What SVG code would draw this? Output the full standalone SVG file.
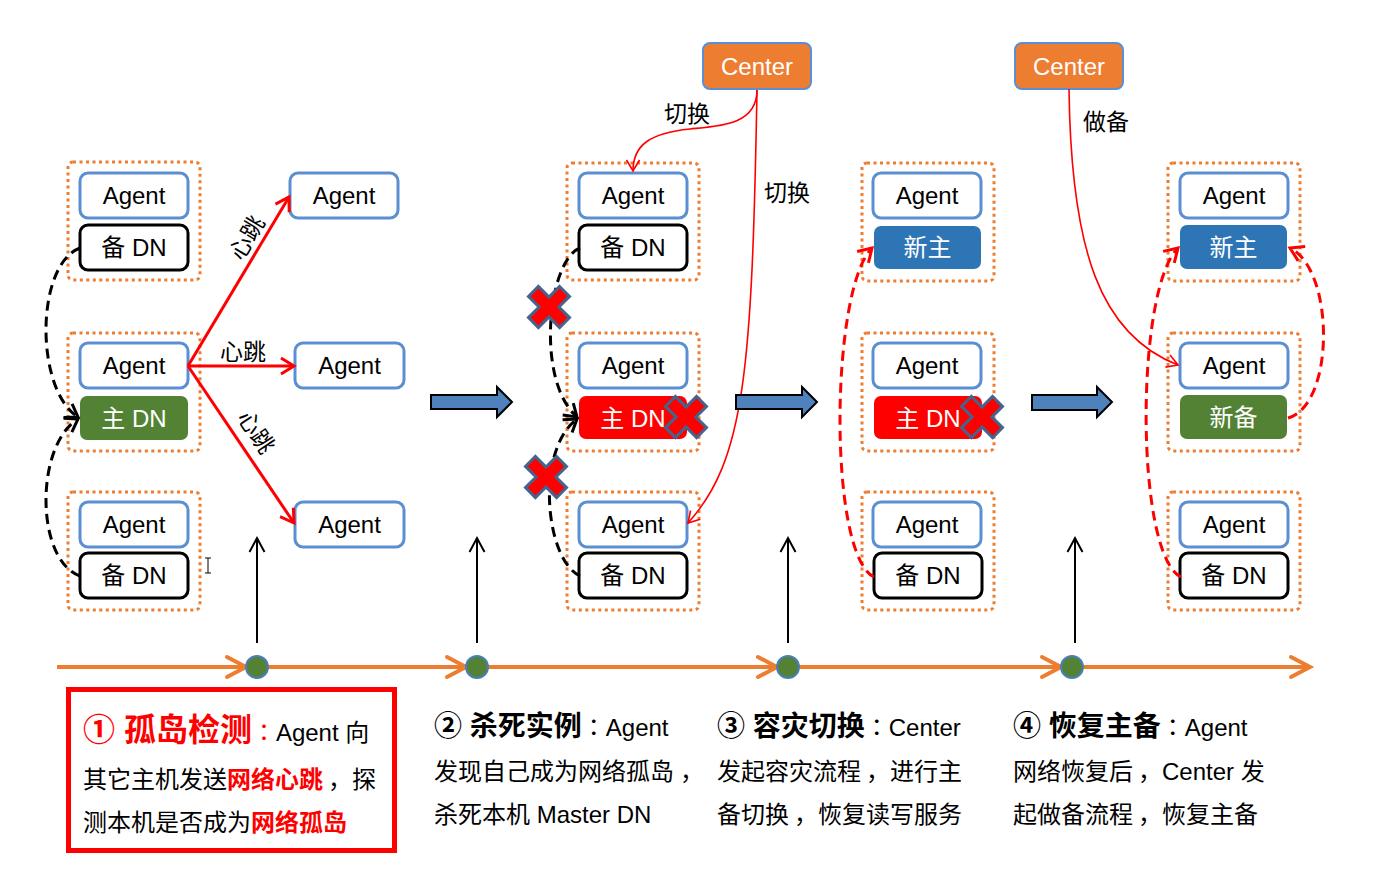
<svg xmlns="http://www.w3.org/2000/svg" width="1373" height="887" viewBox="0 0 1373 887">
<style>
.ctr{fill:none;stroke:#ED7D31;stroke-width:3;stroke-dasharray:3 3.5}
.ag{fill:#fff;stroke:#5B8FD3;stroke-width:3}
.dn{fill:#fff;stroke:#000;stroke-width:3}
.gr{fill:#548235}
.rd{fill:#FF0000}
.bl{fill:#2E75B6}
.cen{fill:#ED7D31;stroke:#5B8FD3;stroke-width:2}
.t{font-family:"Liberation Sans","Noto Sans CJK SC",sans-serif;font-size:24px;text-anchor:middle;fill:#000}
.w{fill:#fff}
.lbl{font-family:"Liberation Sans","Noto Sans CJK SC",sans-serif;font-size:23px;fill:#000}
.body{font-family:"Liberation Sans","Noto Sans CJK SC",sans-serif;font-size:24px;fill:#000}
.p{font-family:"Noto Sans CJK TC",sans-serif}
.hb{fill:none;stroke:#FF0000;stroke-width:3}
.thin{fill:none;stroke:#FF0000;stroke-width:1.6}
.bd{fill:none;stroke:#000;stroke-width:3;stroke-dasharray:10 6}
.rdash{fill:none;stroke:#FF0000;stroke-width:3;stroke-dasharray:10 6}
.blk{fill:#4F81BD;stroke:#000;stroke-width:2}
.up{fill:none;stroke:#000;stroke-width:2}
</style>
<defs>
<marker id="mRed" markerUnits="userSpaceOnUse" viewBox="-20 -12 26 24" markerWidth="26" markerHeight="24" refX="0" refY="0" orient="auto">
<path d="M-13,-8 L0,0 L-13,8" fill="none" stroke="#FF0000" stroke-width="3"/>
</marker>
<marker id="mThin" markerUnits="userSpaceOnUse" viewBox="-20 -12 26 24" markerWidth="26" markerHeight="24" refX="0" refY="0" orient="auto">
<path d="M-11,-6.5 L0,0 L-11,6.5" fill="none" stroke="#FF0000" stroke-width="1.6"/>
</marker>
<marker id="mBlk" markerUnits="userSpaceOnUse" viewBox="-20 -12 26 24" markerWidth="26" markerHeight="24" refX="0" refY="0" orient="auto">
<path d="M-12,-8 L0,0 L-12,8" fill="none" stroke="#000" stroke-width="3"/>
</marker>
<marker id="mUp" markerUnits="userSpaceOnUse" viewBox="-20 -12 26 24" markerWidth="26" markerHeight="24" refX="0" refY="0" orient="auto">
<path d="M-14,-7.5 L0,0 L-14,7.5" fill="none" stroke="#000" stroke-width="2"/>
</marker>
<g id="xm"><path transform="rotate(45)" d="M-7,-22 H7 V-7 H22 V7 H7 V22 H-7 V7 H-22 V-7 H-7 Z" fill="#FF0000" stroke="#44648E" stroke-width="3"/></g>
</defs>

<rect width="1373" height="887" fill="#fff"/>

<!-- Stage 1 -->
<g id="s1-host1">
<rect class="ctr" x="68" y="162" width="132" height="118" rx="5"/>
<g id="s1-h1-agent"><rect class="ag" x="80" y="173" width="108" height="45" rx="8"/><text class="t" x="134" y="204">Agent</text></g>
<g id="s1-h1-dn"><rect class="dn" x="80" y="225" width="108" height="45" rx="8"/><text class="t" x="134" y="256">备 DN</text></g>
</g>
<g id="s1-host2">
<rect class="ctr" x="68" y="333" width="132" height="118" rx="5"/>
<g id="s1-h2-agent"><rect class="ag" x="80" y="343" width="108" height="45" rx="8"/><text class="t" x="134" y="374">Agent</text></g>
<g id="s1-h2-dn"><rect class="gr" x="80" y="396" width="108" height="44" rx="7"/><text class="t w" x="134" y="427">主 DN</text></g>
</g>
<g id="s1-host3">
<rect class="ctr" x="68" y="492" width="132" height="118" rx="5"/>
<g id="s1-h3-agent"><rect class="ag" x="80" y="502" width="108" height="45" rx="8"/><text class="t" x="134" y="533">Agent</text></g>
<g id="s1-h3-dn"><rect class="dn" x="80" y="553" width="108" height="45" rx="8"/><text class="t" x="134" y="584">备 DN</text></g>
</g>
<g id="s1-peer1"><rect class="ag" x="290" y="173" width="108" height="45" rx="8"/><text class="t" x="344" y="204">Agent</text></g>
<g id="s1-peer2"><rect class="ag" x="295" y="343" width="109" height="45" rx="8"/><text class="t" x="349.5" y="374">Agent</text></g>
<g id="s1-peer3"><rect class="ag" x="295" y="502" width="109" height="45" rx="8"/><text class="t" x="349.5" y="533">Agent</text></g>

<!-- Stage 2 -->
<g id="center1"><rect class="cen" x="703" y="43" width="108" height="46" rx="7"/><text class="t w" x="757" y="75">Center</text></g>
<g id="s2-host1">
<rect class="ctr" x="567" y="163" width="132" height="117" rx="5"/>
<g id="s2-h1-agent"><rect class="ag" x="579" y="173" width="108" height="45" rx="8"/><text class="t" x="633" y="204">Agent</text></g>
<g id="s2-h1-dn"><rect class="dn" x="579" y="225" width="108" height="45" rx="8"/><text class="t" x="633" y="256">备 DN</text></g>
</g>
<g id="s2-host2">
<rect class="ctr" x="567" y="333" width="132" height="118" rx="5"/>
<g id="s2-h2-agent"><rect class="ag" x="579" y="343" width="108" height="45" rx="8"/><text class="t" x="633" y="374">Agent</text></g>
<g id="s2-h2-dn"><rect class="rd" x="579" y="396" width="108" height="43" rx="7"/><text class="t w" x="633" y="427">主 DN</text></g>
</g>
<g id="s2-host3">
<rect class="ctr" x="567" y="492" width="132" height="118" rx="5"/>
<g id="s2-h3-agent"><rect class="ag" x="579" y="502" width="108" height="45" rx="8"/><text class="t" x="633" y="533">Agent</text></g>
<g id="s2-h3-dn"><rect class="dn" x="579" y="553" width="108" height="45" rx="8"/><text class="t" x="633" y="584">备 DN</text></g>
</g>

<!-- Stage 3 -->
<g id="center2"><rect class="cen" x="1015" y="43" width="108" height="46" rx="7"/><text class="t w" x="1069" y="75">Center</text></g>
<g id="s3-host1">
<rect class="ctr" x="862" y="163" width="132" height="118" rx="5"/>
<g id="s3-h1-agent"><rect class="ag" x="873" y="173" width="108" height="45" rx="8"/><text class="t" x="927" y="204">Agent</text></g>
<g id="s3-h1-dn"><rect class="bl" x="874" y="226" width="107" height="43" rx="7"/><text class="t w" x="927.5" y="256">新主</text></g>
</g>
<g id="s3-host2">
<rect class="ctr" x="862" y="333" width="132" height="118" rx="5"/>
<g id="s3-h2-agent"><rect class="ag" x="873" y="343" width="108" height="45" rx="8"/><text class="t" x="927" y="374">Agent</text></g>
<g id="s3-h2-dn"><rect class="rd" x="874" y="396" width="108" height="43" rx="7"/><text class="t w" x="928" y="427">主 DN</text></g>
</g>
<g id="s3-host3">
<rect class="ctr" x="862" y="492" width="132" height="118" rx="5"/>
<g id="s3-h3-agent"><rect class="ag" x="873" y="502" width="108" height="45" rx="8"/><text class="t" x="927" y="533">Agent</text></g>
<g id="s3-h3-dn"><rect class="dn" x="874" y="553" width="108" height="45" rx="8"/><text class="t" x="928" y="584">备 DN</text></g>
</g>

<!-- Stage 4 -->
<g id="s4-host1">
<rect class="ctr" x="1168" y="163" width="132" height="118" rx="5"/>
<g id="s4-h1-agent"><rect class="ag" x="1180" y="173" width="108" height="45" rx="8"/><text class="t" x="1234" y="204">Agent</text></g>
<g id="s4-h1-dn"><rect class="bl" x="1180" y="225" width="107" height="44" rx="7"/><text class="t w" x="1233.5" y="256">新主</text></g>
</g>
<g id="s4-host2">
<rect class="ctr" x="1168" y="333" width="132" height="118" rx="5"/>
<g id="s4-h2-agent"><rect class="ag" x="1180" y="343" width="108" height="45" rx="8"/><text class="t" x="1234" y="374">Agent</text></g>
<g id="s4-h2-dn"><rect class="gr" x="1180" y="395" width="107" height="44" rx="7"/><text class="t w" x="1233.5" y="426">新备</text></g>
</g>
<g id="s4-host3">
<rect class="ctr" x="1168" y="492" width="132" height="118" rx="5"/>
<g id="s4-h3-agent"><rect class="ag" x="1180" y="502" width="108" height="45" rx="8"/><text class="t" x="1234" y="533">Agent</text></g>
<g id="s4-h3-dn"><rect class="dn" x="1180" y="553" width="108" height="45" rx="8"/><text class="t" x="1234" y="584">备 DN</text></g>
</g>

<!-- Connectors -->
<g id="connectors">
<line class="hb" x1="188" y1="366" x2="289" y2="197" marker-end="url(#mRed)"/>
<line class="hb" x1="188" y1="366" x2="294" y2="366" marker-end="url(#mRed)"/>
<line class="hb" x1="188" y1="366" x2="294" y2="523" marker-end="url(#mRed)"/>
<path class="bd" d="M80,248 C35,265 35,390 78,417" marker-end="url(#mBlk)"/>
<path class="bd" d="M80,576 C35,560 35,445 78,419" marker-end="url(#mBlk)"/>
<path class="bd" d="M580,248 C548,260 535,380 577,417" marker-end="url(#mBlk)"/>
<path class="bd" d="M580,576 C545,560 535,450 577,419" marker-end="url(#mBlk)"/>
<path class="thin" d="M757,90 C757,125 720,126 690,129 C650,133 633,145 633,171" marker-end="url(#mThin)"/>
<path class="thin" d="M757,90 C752,370 745,460 688,523" marker-end="url(#mThin)"/>
<path class="thin" d="M1069,89 C1071,250 1100,335 1178,365" marker-end="url(#mThin)"/>
<path class="rdash" d="M874,577 C828,555 830,290 872,248" marker-end="url(#mRed)"/>
<path class="rdash" d="M1181,577 C1135,555 1135,290 1178,248" marker-end="url(#mRed)"/>
<path class="rdash" d="M1288,418 C1335,405 1335,270 1290,248" marker-end="url(#mRed)"/>
<polygon class="blk" points="431,395 497,395 497,387 512,402 497,417 497,409 431,409"/>
<polygon class="blk" points="736,395 802,395 802,387 817,402 802,417 802,409 736,409"/>
<polygon class="blk" points="1032,395 1097,395 1097,387 1112,402 1097,417 1097,410 1032,410"/>
<line class="up" x1="257" y1="643" x2="257" y2="538" marker-end="url(#mUp)"/>
<line class="up" x1="477" y1="643" x2="477" y2="538" marker-end="url(#mUp)"/>
<line class="up" x1="788" y1="643" x2="788" y2="538" marker-end="url(#mUp)"/>
<line class="up" x1="1075" y1="643" x2="1075" y2="538" marker-end="url(#mUp)"/>
</g>

<!-- X marks -->
<g id="xmarks">
<use href="#xm" x="549" y="307"/>
<use href="#xm" x="546" y="477"/>
<use href="#xm" x="686" y="417"/>
<use href="#xm" x="982" y="417"/>
</g>

<!-- labels -->
<g id="labels">
<text class="lbl" text-anchor="middle" transform="translate(247,238) rotate(-59)" y="8">心跳</text>
<text class="lbl" text-anchor="middle" x="243" y="360">心跳</text>
<text class="lbl" text-anchor="middle" transform="translate(256,432) rotate(56)" y="8">心跳</text>
<text class="lbl" text-anchor="middle" x="687" y="122">切换</text>
<text class="lbl" text-anchor="middle" x="787" y="201">切换</text>
<text class="lbl" text-anchor="middle" x="1106" y="130">做备</text>
</g>

<!-- timeline -->
<g id="timeline">
<line x1="57" y1="667" x2="1308" y2="667" stroke="#ED7D31" stroke-width="4"/>
<g fill="none" stroke="#ED7D31" stroke-width="4" stroke-linecap="round">
<polyline points="227,657 246,667 227,677"/>
<polyline points="447,657 466,667 447,677"/>
<polyline points="758,657 777,667 758,677"/>
<polyline points="1042,657 1061,667 1042,677"/>
<polyline points="1291,657 1310,667 1291,677"/>
</g>
<g fill="#548235" stroke="#4A7EBB" stroke-width="2">
<circle cx="257" cy="667" r="11"/>
<circle cx="477" cy="667" r="11"/>
<circle cx="788" cy="667" r="11"/>
<circle cx="1072" cy="667" r="11"/>
</g>
</g>

<!-- cursor artifact -->
<path d="M205,558 H211 M208,558 V573 M205,573 H211" stroke="#000" stroke-width="1" fill="none"/>

<!-- descriptions -->
<g id="desc1">
<rect x="68.5" y="689.5" width="326" height="161" fill="none" stroke="#FF0000" stroke-width="5"/>
<text class="body" x="83" y="741"><tspan fill="#FF0000" font-weight="bold" font-size="32px">① 孤岛检测</tspan><tspan class="p" fill="#FF0000">：</tspan><tspan>Agent 向</tspan></text>
<text class="body" x="83" y="788">其它主机发送<tspan fill="#FF0000" font-weight="bold">网络心跳</tspan><tspan dx="5">，</tspan>探</text>
<text class="body" x="83" y="831">测本机是否成为<tspan fill="#FF0000" font-weight="bold">网络孤岛</tspan></text>
</g>
<g id="desc2">
<text class="body" x="434" y="736"><tspan font-weight="bold" font-size="28px">② 杀死实例</tspan><tspan class="p">：</tspan>Agent</text>
<text class="body" x="434" y="780">发现自己成为网络孤岛<tspan dx="6">，</tspan></text>
<text class="body" x="434" y="823">杀死本机 Master DN</text>
</g>
<g id="desc3">
<text class="body" x="717" y="736"><tspan font-weight="bold" font-size="28px">③ 容灾切换</tspan><tspan class="p">：</tspan>Center</text>
<text class="body" x="717" y="780">发起容灾流程<tspan dx="5">，</tspan>进行主</text>
<text class="body" x="717" y="823">备切换<tspan dx="5">，</tspan>恢复读写服务</text>
</g>
<g id="desc4">
<text class="body" x="1013" y="736"><tspan font-weight="bold" font-size="28px">④ 恢复主备</tspan><tspan class="p">：</tspan>Agent</text>
<text class="body" x="1013" y="780">网络恢复后<tspan dx="5">，</tspan>Center 发</text>
<text class="body" x="1013" y="823">起做备流程<tspan dx="5">，</tspan>恢复主备</text>
</g>
</svg>
